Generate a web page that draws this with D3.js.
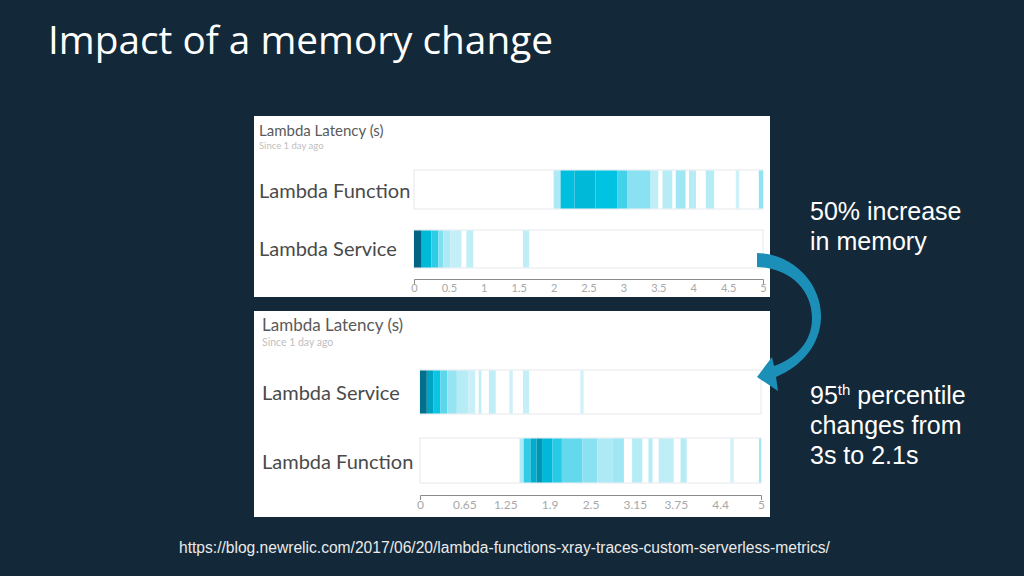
<!DOCTYPE html>
<html>
<head>
<meta charset="utf-8">
<script src="https://cdn.jsdelivr.net/npm/d3@7"></script>
<style>
	body { margin: 0; background: #132838; }
	svg { display: block; }
</style>
</head>
<body>
<div id="slide"></div>
<script>
{
// Latency heatmaps: each bin is [start (s), end (s), density 0..1]
const before_function = [
	[2.00, 2.10, 0.12], [2.10, 2.30, 0.52], [2.30, 2.60, 0.55], [2.60, 2.91, 0.50],
	[2.91, 3.06, 0.35], [3.06, 3.39, 0.20], [3.39, 3.50, 0.08], [3.56, 3.70, 0.10],
	[3.75, 3.89, 0.15], [3.94, 4.04, 0.10], [4.18, 4.30, 0.10], [4.61, 4.66, 0.05],
	[4.94, 5.00, 0.18],
];
const before_service = [
	[0.00, 0.11, 0.95], [0.11, 0.25, 0.55], [0.25, 0.35, 0.40], [0.35, 0.42, 0.22],
	[0.42, 0.52, 0.12], [0.52, 0.68, 0.07], [0.75, 0.85, 0.08], [1.56, 1.65, 0.08],
];
const after_service = [
	[0.00, 0.10, 0.90], [0.10, 0.20, 0.65], [0.20, 0.30, 0.48], [0.30, 0.40, 0.30],
	[0.40, 0.54, 0.17], [0.54, 0.71, 0.10], [0.71, 0.81, 0.06], [0.86, 0.90, 0.08],
	[1.01, 1.11, 0.08], [1.31, 1.36, 0.05], [1.51, 1.60, 0.07], [2.35, 2.40, 0.04],
];
const after_function = [
	[1.46, 1.52, 0.12], [1.52, 1.62, 0.40], [1.62, 1.71, 0.60], [1.71, 1.79, 0.72],
	[1.79, 1.94, 0.55], [1.94, 2.08, 0.42], [2.08, 2.38, 0.28], [2.38, 2.60, 0.20],
	[2.60, 2.82, 0.12], [2.82, 2.99, 0.15], [3.11, 3.26, 0.10], [3.35, 3.41, 0.10],
	[3.50, 3.72, 0.08], [3.82, 3.91, 0.10], [4.55, 4.60, 0.04], [4.97, 5.00, 0.15],
];

const before_ticks = [0, 0.5, 1, 1.5, 2, 2.5, 3, 3.5, 4, 4.5, 5];
const after_ticks = [0, 0.65, 1.25, 1.9, 2.5, 3.15, 3.75, 4.4, 5];

const title = "Impact of a memory change";
const panel_title = "Lambda Latency (s)";
const panel_subtitle = "Since 1 day ago";
const note_top = ["50% increase", "in memory"];
const source_url = "https://blog.newrelic.com/2017/06/20/lambda-functions-xray-traces-custom-serverless-metrics/";

const color = d3.scaleLinear()
	.domain([0, 0.5, 1])
	.range(["#e4f6fb", "#00c2e2", "#005b78"]);

const svg = d3.select("#slide")
	.append("svg")
		.attr("width", 1024)
		.attr("height", 576);

svg.append("rect")
	.attr("width", 1024)
	.attr("height", 576)
	.attr("fill", "#132838");

// title, sized so it spans the same width as on the slide
const title_text = svg.append("text")
	.attr("x", 48)
	.attr("y", 54)
	.attr("fill", "#ffffff")
	.attr("font-family", "Open Sans")
	.attr("font-size", 32)
	.text(title);
const title_w = title_text.node().getComputedTextLength();
title_text.attr("font-size", 32 * 505 / title_w);

// one screenshot-like panel with two heatmap rows and an axis
function panel(opts) {
	const g = svg.append("g");
	g.append("rect")
		.attr("x", opts.x)
		.attr("y", opts.y)
		.attr("width", opts.w)
		.attr("height", opts.h)
		.attr("fill", "#ffffff");
	g.append("text")
		.attr("x", opts.x + opts.pad)
		.attr("y", opts.y + opts.title_y)
		.attr("fill", "#5a5a5a")
		.attr("font-family", "Lato")
		.attr("font-size", opts.title_size)
		.text(panel_title);
	g.append("text")
		.attr("x", opts.x + opts.pad)
		.attr("y", opts.y + opts.sub_y)
		.attr("fill", "#c0c0c0")
		.attr("font-family", "Lato")
		.attr("font-size", opts.sub_size)
		.text(panel_subtitle);

	const x = d3.scaleLinear()
		.domain([0, 5])
		.range([opts.x0, opts.x1]);

	opts.rows.forEach(row => {
		g.append("text")
			.attr("x", opts.x + opts.pad)
			.attr("y", row.label_y)
			.attr("fill", "#4a4a4a")
			.attr("font-family", "Lato")
			.attr("font-size", 20)
			.text(row.label);
		g.append("rect")
			.attr("x", x(0))
			.attr("y", row.y0)
			.attr("width", x(5) - x(0))
			.attr("height", row.y1 - row.y0)
			.attr("fill", "#ffffff")
			.attr("stroke", "#e4e8ea")
			.attr("stroke-width", 1);
		g.append("g")
			.selectAll("rect")
			.data(row.bins)
			.join("rect")
				.attr("x", d => x(d[0]))
				.attr("y", row.y0 + 0.5)
				.attr("width", d => x(d[1]) - x(d[0]))
				.attr("height", row.y1 - row.y0 - 1)
				.attr("fill", d => color(d[2]));
	});

	const axis = g.append("g")
		.attr("transform", "translate(0," + opts.axis_y + ")")
		.call(d3.axisBottom(x)
			.tickValues(opts.ticks)
			.tickFormat(d => d)
			.tickSizeInner(0)
			.tickSizeOuter(5)
			.tickPadding(5));
	axis.select(".domain")
		.attr("stroke", "#8a8a8a");
	axis.selectAll("text")
		.attr("fill", "#a8a8a8")
		.attr("font-family", "Lato")
		.attr("font-size", opts.tick_size);
}

panel({
	x: 254, y: 116, w: 516, h: 181, pad: 5,
	title_y: 20, title_size: 15, sub_y: 33, sub_size: 9.5,
	x0: 414, x1: 763, axis_y: 279, ticks: before_ticks, tick_size: 11,
	rows: [
		{label: "Lambda Function", label_y: 198, y0: 170, y1: 209, bins: before_function},
		{label: "Lambda Service", label_y: 256, y0: 230, y1: 268, bins: before_service},
	],
});
panel({
	x: 254, y: 311, w: 516, h: 206, pad: 8,
	title_y: 20, title_size: 17, sub_y: 35, sub_size: 10.5,
	x0: 420, x1: 761, axis_y: 495, ticks: after_ticks, tick_size: 12,
	rows: [
		{label: "Lambda Service", label_y: 400, y0: 370, y1: 414, bins: after_service},
		{label: "Lambda Function", label_y: 469, y0: 438, y1: 483, bins: after_function},
	],
});

// curved arrow between the panels
const arrow = d3.path();
arrow.moveTo(757, 253);
arrow.bezierCurveTo(795, 254, 822, 285, 821, 318);
arrow.bezierCurveTo(820, 345, 802, 366, 776, 377);
arrow.lineTo(778, 391);
arrow.lineTo(757, 377);
arrow.lineTo(772, 357);
arrow.lineTo(774, 366);
arrow.bezierCurveTo(796, 358, 812, 342, 812, 318);
arrow.bezierCurveTo(812, 290, 790, 268, 757, 267);
arrow.closePath();
svg.append("path")
	.attr("d", arrow.toString())
	.attr("fill", "#1b8fb7");

// notes on the right
const notes = svg.append("g")
	.attr("fill", "#ffffff")
	.attr("font-family", "Liberation Sans")
	.attr("font-size", 25);
notes.selectAll(".top")
	.data(note_top)
	.join("text")
		.attr("class", "top")
		.attr("x", 810)
		.attr("y", (d, i) => 220 + i * 30)
		.text(d => d);
const n1 = notes.append("text")
	.attr("x", 810)
	.attr("y", 404);
n1.append("tspan").text("95");
n1.append("tspan").attr("font-size", 15).attr("dy", -9).text("th");
n1.append("tspan").attr("dy", 9).text(" percentile");
notes.append("text").attr("x", 810).attr("y", 434).text("changes from");
notes.append("text").attr("x", 810).attr("y", 464).text("3s to 2.1s");

svg.append("text")
	.attr("x", 179)
	.attr("y", 553)
	.attr("fill", "#eaeaea")
	.attr("font-family", "Liberation Sans")
	.attr("font-size", 15.6)
	.text(source_url);
}
</script>
</body>
</html>
